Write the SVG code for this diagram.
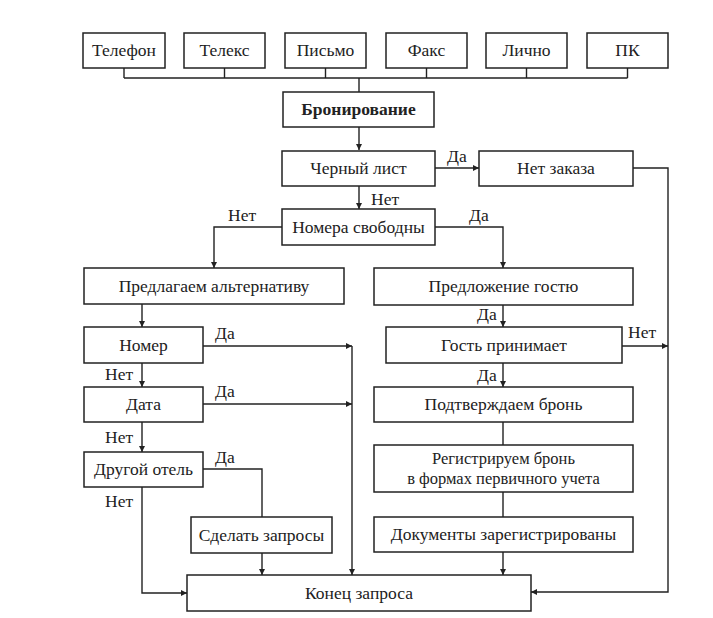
<svg xmlns="http://www.w3.org/2000/svg" width="713" height="618" viewBox="0 0 713 618">
<style>
.b{fill:#fff;stroke:#222;stroke-width:1.5}
.t{font-family:'Liberation Serif','DejaVu Serif',serif;font-size:17.5px;fill:#222;text-anchor:middle}
.s{font-size:16.5px}
.l{font-family:'Liberation Serif','DejaVu Serif',serif;font-size:17.5px;fill:#222}
.c{fill:none;stroke:#222;stroke-width:1.4}
</style>
<defs>
<marker id="a" viewBox="0 0 10 10" refX="10" refY="5" markerWidth="9" markerHeight="6" markerUnits="userSpaceOnUse" orient="auto">
<path d="M0,0 L10,5 L0,10 Z" fill="#222"/>
</marker>
</defs>
<rect width="713" height="618" fill="#fff"/>
<g id="connectors">
<path class="c" d="M124,68V78M224.5,68V78M325.5,68V78M426.5,68V78M526.5,68V78M627.5,68V78M124,78H627.5M359,78V92"/>
<path class="c" d="M359,127V150" marker-end="url(#a)"/>
<path class="c" d="M435,168H479" marker-end="url(#a)"/>
<path class="c" d="M633,168H668V592H531" marker-end="url(#a)"/>
<path class="c" d="M359,186V209" marker-end="url(#a)"/>
<path class="c" d="M282,227H214V268" marker-end="url(#a)"/>
<path class="c" d="M435,227H503V268" marker-end="url(#a)"/>
<path class="c" d="M142,304V327" marker-end="url(#a)"/>
<path class="c" d="M203,346H352" marker-end="url(#a)"/>
<path class="c" d="M352,346V575" marker-end="url(#a)"/>
<path class="c" d="M142,363V387" marker-end="url(#a)"/>
<path class="c" d="M203,404H352" marker-end="url(#a)"/>
<path class="c" d="M142,422V452" marker-end="url(#a)"/>
<path class="c" d="M203,469H262V517"/>
<path class="c" d="M142,487V593H187" marker-end="url(#a)"/>
<path class="c" d="M262,553V575" marker-end="url(#a)"/>
<path class="c" d="M503,305V327" marker-end="url(#a)"/>
<path class="c" d="M622,346H668" marker-end="url(#a)"/>
<path class="c" d="M503,363V387" marker-end="url(#a)"/>
<path class="c" d="M503,422V445M503,492V517"/>
<path class="c" d="M503,552V575" marker-end="url(#a)"/>
<text class="l" x="447" y="162">Да</text>
<text class="l" x="371" y="205">Нет</text>
<text class="l" x="228" y="221">Нет</text>
<text class="l" x="469" y="221">Да</text>
<text class="l" x="215" y="339">Да</text>
<text class="l" x="105" y="380">Нет</text>
<text class="l" x="215" y="397">Да</text>
<text class="l" x="105" y="443">Нет</text>
<text class="l" x="215" y="463">Да</text>
<text class="l" x="105" y="507">Нет</text>
<text class="l" x="477" y="320">Да</text>
<text class="l" x="628" y="338">Нет</text>
<text class="l" x="477" y="381">Да</text>
</g>
<g id="n-telefon"><rect class="b" x="83" y="33" width="82" height="35"/><text class="t" x="124" y="56">Телефон</text></g>
<g id="n-teleks"><rect class="b" x="184" y="33" width="81" height="35"/><text class="t" x="224.5" y="56">Телекс</text></g>
<g id="n-pismo"><rect class="b" x="285" y="33" width="81" height="35"/><text class="t" x="325.5" y="56">Письмо</text></g>
<g id="n-faks"><rect class="b" x="386" y="33" width="81" height="35"/><text class="t" x="426.5" y="56">Факс</text></g>
<g id="n-lichno"><rect class="b" x="486" y="33" width="81" height="35"/><text class="t" x="526.5" y="56">Лично</text></g>
<g id="n-pk"><rect class="b" x="587" y="33" width="81" height="35"/><text class="t" x="627.5" y="56">ПК</text></g>
<g id="n-bron"><rect class="b" x="283" y="92" width="151" height="35"/><text class="t" x="358.5" y="115" font-weight="bold">Бронирование</text></g>
<g id="n-cherny"><rect class="b" x="282" y="151" width="153" height="35"/><text class="t" x="358.5" y="174">Черный лист</text></g>
<g id="n-netzakaza"><rect class="b" x="479" y="151" width="154" height="35"/><text class="t" x="556" y="174">Нет заказа</text></g>
<g id="n-nomera"><rect class="b" x="282" y="209" width="153" height="36"/><text class="t" x="358.5" y="233">Номера свободны</text></g>
<g id="n-predlagaem"><rect class="b" x="84" y="268" width="260" height="36"/><text class="t" x="214" y="292">Предлагаем альтернативу</text></g>
<g id="n-predlozhenie"><rect class="b" x="374" y="268" width="259" height="37"/><text class="t" x="503.5" y="292">Предложение гостю</text></g>
<g id="n-nomer"><rect class="b" x="84" y="327" width="119" height="36"/><text class="t" x="143.5" y="351">Номер</text></g>
<g id="n-gost"><rect class="b" x="386" y="327" width="236" height="36"/><text class="t" x="504" y="351">Гость принимает</text></g>
<g id="n-data"><rect class="b" x="84" y="387" width="119" height="35"/><text class="t" x="143.5" y="410">Дата</text></g>
<g id="n-podtv"><rect class="b" x="374" y="387" width="259" height="35"/><text class="t" x="503.5" y="410">Подтверждаем бронь</text></g>
<g id="n-drugoy"><rect class="b" x="84" y="452" width="119" height="35"/><text class="t" x="143.5" y="475">Другой отель</text></g>
<g id="n-registr"><rect class="b" x="374" y="445" width="259" height="47"/><text class="t s" x="503.5" y="464">Регистрируем бронь</text><text class="t s" x="503.5" y="484">в формах первичного учета</text></g>
<g id="n-sdelat"><rect class="b" x="191" y="517" width="141" height="36"/><text class="t" x="261.5" y="541">Сделать запросы</text></g>
<g id="n-docs"><rect class="b" x="374" y="517" width="259" height="35"/><text class="t" x="503.5" y="540">Документы зарегистрированы</text></g>
<g id="n-konec"><rect class="b" x="187" y="575" width="344" height="36"/><text class="t" x="359" y="599">Конец запроса</text></g>
</svg>
